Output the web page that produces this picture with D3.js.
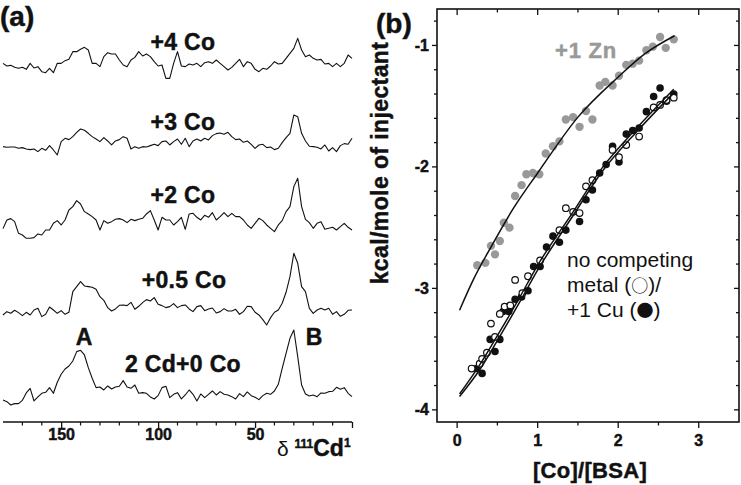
<!DOCTYPE html>
<html><head><meta charset="utf-8">
<script src="https://cdn.jsdelivr.net/npm/d3@7"></script>
<style>
body{margin:0;background:#fff}
svg{display:block}
text{font-family:"Liberation Sans",Arial,Helvetica,sans-serif}
.bd{font-weight:bold;stroke-width:0.45px;paint-order:stroke}
.sym{font-family:"Noto Sans CJK SC","DejaVu Sans",sans-serif}
</style>
</head><body>
<svg id="c" width="741" height="485"></svg>
<script>
// ---------- Panel (a): 111Cd NMR spectra ----------
const ppm = [180,178,176,174,172,170,168,166,164,162,160,158,156,154,152,150,148,146,144,142,140,138,136,134,132,130,128,126,124,122,120,118,116,114,112,110,108,106,104,102,100,98,96,94,92,90,88,86,84,82,80,78,76,74,72,70,68,66,64,62,60,58,56,54,52,50,48,46,44,42,40,38,36,34,32,30,28,26,24,22,20,18,16,14,12,10,8,6,4,2,0];
const spec4Co = [20,12,14,8,5,8,2,20,6,10,-5,-8,5,-8,20,20,28,32,55,55,62,68,60,20,20,10,40,52,48,48,30,15,10,30,38,55,42,48,40,25,12,15,-25,-25,20,55,12,10,18,15,20,10,22,25,20,30,20,10,0,8,20,32,10,25,20,2,-5,5,2,12,25,18,20,35,50,65,95,60,40,45,35,30,32,18,20,10,20,10,20,45,35];
const spec3Co = [5,3,4,4,0,2,-2,-4,-2,-10,0,-6,8,-5,-20,20,30,26,35,48,58,54,45,35,28,20,32,22,10,22,26,35,30,-2,5,0,5,4,8,12,8,20,22,10,20,28,12,30,5,22,28,22,30,25,38,44,46,42,48,35,26,28,18,22,12,0,10,12,2,4,-4,0,17,32,45,100,95,45,22,6,5,3,-2,10,-8,2,-10,8,14,12,30];
const spec2Co = [-1,25,29,20,-15,-20,-30,-30,-28,-17,-20,-5,-5,15,23,10,25,55,65,83,73,50,43,35,25,-5,23,15,20,27,29,25,17,27,23,27,30,43,53,25,-5,33,25,25,10,20,33,-3,43,45,33,25,39,33,47,25,35,47,35,45,35,35,25,10,0,15,30,23,10,0,-10,10,23,50,65,125,150,65,27,17,0,15,20,-3,0,3,-5,5,15,3,-5];
const spec05Co = [-5,5,0,9,2,-7,3,-5,10,15,-10,-3,19,10,0,8,-3,3,65,80,95,82,80,78,72,50,39,17,7,13,24,25,23,33,12,21,32,41,37,47,27,23,17,20,29,17,23,25,13,5,20,23,8,13,16,1,5,14,7,7,12,-3,5,21,20,3,-5,-19,-35,-13,3,10,30,63,110,180,150,80,65,15,0,10,15,10,15,-3,5,-9,-3,9,10];
const spec2Cd = [-5,-10,-20,-16,-16,-6,16,30,-8,4,15,18,32,15,48,72,88,97,112,140,144,130,92,60,32,34,25,37,28,34,36,53,34,30,40,15,17,15,4,-2,8,32,36,2,12,17,-2,10,25,12,-8,13,2,12,22,10,20,12,10,5,-2,14,5,19,8,3,-4,8,15,12,22,42,90,135,180,205,125,40,13,7,10,5,16,15,20,21,33,27,32,15,5];
const specLabels = ["+4 Co","+3 Co","+2 Co","+0.5 Co","2 Cd+0 Co"];
const ppmTicks = [150,100,50];
const ppmMinor = [170,160,140,130,120,110,90,80,70,60,40,30,20,10];

// ---------- Panel (b): ITC ----------
const znX = [0.25,0.35,0.42,0.47,0.53,0.58,0.65,0.72,0.80,0.86,0.94,1.02,1.10,1.19,1.27,1.35,1.44,1.52,1.60,1.68,1.77,1.84,1.93,2.01,2.10,2.18,2.26,2.35,2.43,2.52,2.59,2.69];
const znY = [-2.81,-2.79,-2.65,-2.72,-2.61,-2.46,-2.50,-2.24,-2.15,-2.06,-2.05,-2.06,-1.89,-1.83,-1.79,-1.61,-1.59,-1.67,-1.54,-1.61,-1.33,-1.30,-1.33,-1.25,-1.16,-1.15,-1.125,-1.04,-1.01,-0.93,-1.02,-0.95];
const openX = [0.18,0.28,0.31,0.37,0.42,0.47,0.53,0.59,0.66,0.72,0.81,0.88,1.03,1.27,1.35,1.44,1.52,1.60,1.68,1.93,2.01,2.10,2.26,2.44,2.52,2.60,2.69];
const openY = [-3.66,-3.62,-3.58,-3.53,-3.29,-3.40,-3.21,-3.15,-3.14,-2.93,-3.04,-2.90,-2.77,-2.52,-2.34,-2.37,-2.38,-2.16,-2.11,-1.86,-1.92,-1.82,-1.75,-1.51,-1.49,-1.45,-1.43];
const cuX = [0.24,0.31,0.41,0.47,0.53,0.57,0.64,0.72,0.80,0.88,0.95,1.03,1.11,1.19,1.27,1.35,1.52,1.60,1.68,1.77,1.85,1.93,2.01,2.10,2.18,2.26,2.35,2.44,2.52,2.60,2.69];
const cuY = [-3.66,-3.70,-3.42,-3.52,-3.42,-3.19,-3.19,-3.09,-3.07,-3.02,-2.82,-2.82,-2.66,-2.57,-2.62,-2.52,-2.45,-2.27,-2.19,-2.05,-1.98,-1.83,-1.96,-1.73,-1.70,-1.68,-1.545,-1.42,-1.35,-1.46,-1.40];
const znFitX = [0.03,0.2,0.42,0.7,1.0,1.5,2.0,2.35,2.7];
const znFitY = [-3.18,-2.93,-2.66,-2.34,-2.05,-1.59,-1.26,-1.06,-0.92];
const openFitX = [0.03,0.28,0.49,0.78,0.99,1.43,1.81,2.23,2.69];
const openFitY = [-3.87,-3.63,-3.40,-3.07,-2.82,-2.38,-2.00,-1.68,-1.36];
const cuFitX = [0.03,0.28,0.49,0.78,0.99,1.43,1.81,2.23,2.69];
const cuFitY = [-3.89,-3.67,-3.44,-3.11,-2.86,-2.41,-2.03,-1.71,-1.39];
const xTicksB = [0,1,2,3];
const yTicksB = [-1,-2,-3,-4];

const svg = d3.select("#c");
svg.append("rect").attr("width",741).attr("height",485).attr("fill","#fff");
const INK = "#111";

// ===== Panel (a) =====
const xa = d3.scaleLinear().domain([180,0]).range([3,352]);
const specs = [spec4Co, spec3Co, spec2Co, spec05Co, spec2Cd];
const baselines = [70,148.3,228.3,313.3,398.3];
const ga = svg.append("g");
specs.forEach((s,i)=>{
  const ya = d3.scaleLinear().domain([0,300]).range([baselines[i], baselines[i]-100]);
  const line = d3.line().x((d,j)=>xa(ppm[j])).y(d=>ya(d));
  ga.append("path").datum(s).attr("d",line).attr("fill","none")
    .attr("stroke",INK).attr("stroke-width",1.1).attr("stroke-linejoin","round");
});
const labPos = [[183,50],[183,130],[183,203],[184,288],[183,372]];
specLabels.forEach((t,i)=>{
  ga.append("text").attr("class","bd").attr("x",labPos[i][0]).attr("y",labPos[i][1]).attr("text-anchor","middle")
    .attr("font-size",23).attr("letter-spacing",0.3).attr("fill",INK).attr("stroke",INK).text(t);
});
ga.append("text").attr("class","bd").attr("x",84).attr("y",345).attr("text-anchor","middle")
  .attr("font-size",23).attr("fill",INK).attr("stroke",INK).text("A");
ga.append("text").attr("class","bd").attr("x",314).attr("y",345).attr("text-anchor","middle")
  .attr("font-size",23).attr("fill",INK).attr("stroke",INK).text("B");
ga.append("text").attr("class","bd").attr("x",0).attr("y",26).attr("font-size",28).attr("fill",INK).attr("stroke",INK).text("(a)");

// axis (a)
const axA = ga.append("g").attr("transform","translate(0,422)");
axA.append("line").attr("x1",3).attr("x2",352).attr("stroke",INK).attr("stroke-width",1.3);
axA.call(g=>{
  const maj = d3.axisBottom(xa).tickValues([150,100,50,0]).tickSize(6).tickFormat(d=> d===0?"":String(d));
  g.call(maj);
  g.select(".domain").remove();
  g.selectAll(".tick line").attr("stroke",INK).attr("stroke-width",1.3);
  g.selectAll(".tick text").attr("class","bd").attr("font-size",16).attr("fill",INK).attr("stroke",INK)
    .attr("dy","0.55em").attr("font-family","Liberation Sans, Arial, sans-serif");
});
axA.selectAll(".minor").data(ppmMinor).enter().append("line")
  .attr("x1",d=>xa(d)).attr("x2",d=>xa(d)).attr("y1",0).attr("y2",3.5)
  .attr("stroke",INK).attr("stroke-width",1.2);
const dl = ga.append("text").attr("x",277).attr("y",456).attr("fill",INK).attr("font-size",21);
dl.append("tspan").text("δ ");
dl.append("tspan").attr("class","bd").attr("stroke",INK).attr("font-size",12).attr("dy",-8).text("111");
dl.append("tspan").attr("class","bd").attr("stroke",INK).attr("font-size",23).attr("dy",8).text("Cd");
dl.append("tspan").attr("class","bd").attr("stroke",INK).attr("font-size",12).attr("dy",-9).text("1");

// ===== Panel (b) =====
const L=437, R=739, T=9, B=422;
const xb = d3.scaleLinear().domain([-0.25,3.5]).range([L,R]);
const yb = d3.scaleLinear().domain([-4.1,-0.7]).range([B,T]);
const gb = svg.append("g");

const xMinor = [0.5,1.5,2.5];
const yMinor = [-0.8,-1.2,-1.4,-1.6,-1.8,-2.2,-2.4,-2.6,-2.8,-3.2,-3.4,-3.6,-3.8];
const tk = gb.append("g").attr("stroke",INK).attr("stroke-width",1.3);
xTicksB.forEach(v=>{
  tk.append("line").attr("x1",xb(v)).attr("x2",xb(v)).attr("y1",B).attr("y2",B+6);
  tk.append("line").attr("x1",xb(v)).attr("x2",xb(v)).attr("y1",T).attr("y2",T+6);
});
xMinor.forEach(v=>{
  tk.append("line").attr("x1",xb(v)).attr("x2",xb(v)).attr("y1",B).attr("y2",B+3.5);
  tk.append("line").attr("x1",xb(v)).attr("x2",xb(v)).attr("y1",T).attr("y2",T+3.5);
});
yTicksB.forEach(v=>{
  tk.append("line").attr("x1",L-5).attr("x2",L).attr("y1",yb(v)).attr("y2",yb(v));
  tk.append("line").attr("x1",R-5).attr("x2",R).attr("y1",yb(v)).attr("y2",yb(v));
});
yMinor.forEach(v=>{
  tk.append("line").attr("x1",L-3).attr("x2",L).attr("y1",yb(v)).attr("y2",yb(v));
  tk.append("line").attr("x1",R-3).attr("x2",R).attr("y1",yb(v)).attr("y2",yb(v));
});
gb.append("rect").attr("x",L).attr("y",T).attr("width",R-L).attr("height",B-T)
  .attr("fill","none").attr("stroke",INK).attr("stroke-width",1.6);

gb.selectAll(".xl").data(xTicksB).enter().append("text").attr("class","bd")
  .attr("x",d=>xb(d)).attr("y",446).attr("text-anchor","middle")
  .attr("font-size",16).attr("fill",INK).attr("stroke",INK).text(d=>String(d));
gb.selectAll(".yl").data(yTicksB).enter().append("text").attr("class","bd")
  .attr("x",429).attr("y",d=>yb(d)+5.5).attr("text-anchor","end")
  .attr("font-size",16).attr("fill",INK).attr("stroke",INK).text(d=>String(d));

const zn = znX.map((x,i)=>[x,znY[i]]);
const op = openX.map((x,i)=>[x,openY[i]]);
const cu = cuX.map((x,i)=>[x,cuY[i]]);
gb.selectAll(".zn").data(zn).enter().append("circle")
  .attr("cx",d=>xb(d[0])).attr("cy",d=>yb(d[1])).attr("r",4.2).attr("fill","#999");
gb.selectAll(".cu").data(cu).enter().append("circle")
  .attr("cx",d=>xb(d[0])).attr("cy",d=>yb(d[1])).attr("r",3.8).attr("fill",INK);
gb.selectAll(".op").data(op).enter().append("circle")
  .attr("cx",d=>xb(d[0])).attr("cy",d=>yb(d[1])).attr("r",3.3).attr("fill","#fff")
  .attr("stroke",INK).attr("stroke-width",1.2);

const fl = d3.line().x(d=>xb(d[0])).y(d=>yb(d[1])).curve(d3.curveMonotoneX);
[[znFitX,znFitY],[openFitX,openFitY],[cuFitX,cuFitY]].forEach(([xs,ys])=>{
  gb.append("path").datum(xs.map((x,i)=>[x,ys[i]])).attr("d",fl)
    .attr("fill","none").attr("stroke",INK).attr("stroke-width",1.5);
});

gb.append("text").attr("class","bd").attr("x",376).attr("y",33).attr("font-size",28).attr("fill",INK).attr("stroke",INK).text("(b)");
gb.append("text").attr("class","bd").attr("x",555).attr("y",58).attr("font-size",22)
  .attr("letter-spacing",0.8).attr("fill","#999").attr("stroke","#999").text("+1 Zn");
const legLines = [267,292,317];
const t1 = gb.append("text").attr("x",567).attr("y",legLines[0]).attr("font-size",21).attr("fill",INK).text("no competing");
const t2 = gb.append("text").attr("x",567).attr("y",legLines[1]).attr("font-size",21).attr("fill",INK);
t2.append("tspan").text("metal (");
t2.append("tspan").attr("class","sym").attr("font-size",17).text("○");
t2.append("tspan").text(")/");
const t3 = gb.append("text").attr("x",567).attr("y",legLines[2]).attr("font-size",21).attr("fill",INK);
t3.append("tspan").text("+1 Cu (");
t3.append("tspan").attr("class","sym").attr("font-size",17).text("●");
t3.append("tspan").text(")");
gb.append("text").attr("class","bd").attr("transform","translate(388,163) rotate(-90)").attr("text-anchor","middle")
  .attr("font-size",23).attr("letter-spacing",0.4).attr("fill",INK).attr("stroke",INK)
  .text("kcal/mole of injectant");
gb.append("text").attr("class","bd").attr("x",590).attr("y",478).attr("text-anchor","middle")
  .attr("font-size",22).attr("letter-spacing",0.3).attr("fill",INK).attr("stroke",INK)
  .text("[Co]/[BSA]");
</script>
</body></html>
